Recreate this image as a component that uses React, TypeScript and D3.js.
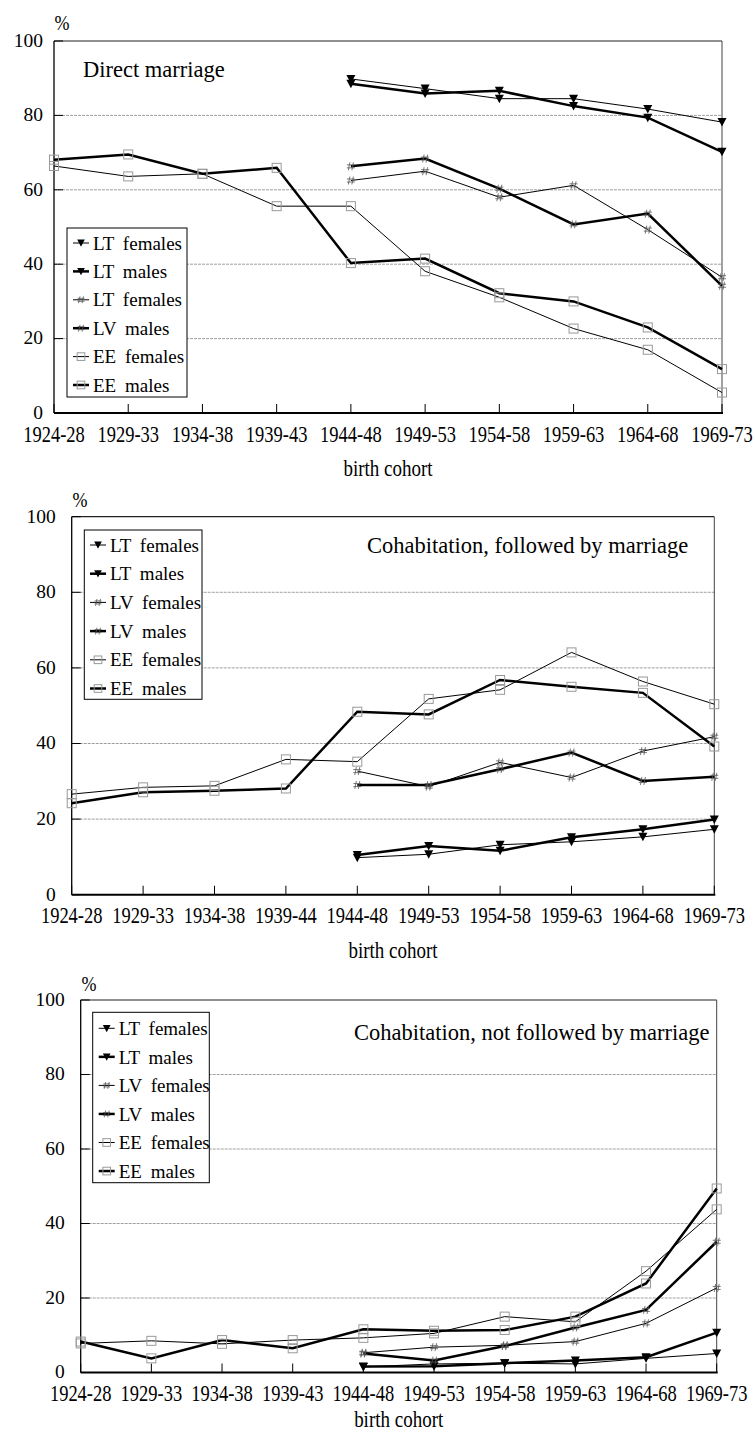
import React from "react";
import * as d3 from "d3";

// x categories (birth cohorts) and y ticks
const cohortsA = ["1924-28", "1929-33", "1934-38", "1939-43", "1944-48", "1949-53", "1954-58", "1959-63", "1964-68", "1969-73"];
const cohortsB = ["1924-28", "1929-33", "1934-38", "1939-44", "1944-48", "1949-53", "1954-58", "1959-63", "1964-68", "1969-73"];
const yTicks = [0, 20, 40, 60, 80, 100];

type V = number | null;
const _ = null;

// Direct marriage
const dmLtF: V[] = [_, _, _, _, 89.8, 87.2, 84.5, 84.5, 81.7, 78.2];
const dmLtM: V[] = [_, _, _, _, 88.5, 85.9, 86.6, 82.5, 79.4, 70.2];
const dmLvF: V[] = [_, _, _, _, 62.5, 65.0, 58.0, 61.2, 49.3, 36.5];
const dmLvM: V[] = [_, _, _, _, 66.3, 68.4, 60.3, 50.7, 53.6, 34.2];
const dmEeF: V[] = [66.4, 63.6, 64.3, 55.6, 55.6, 38.1, 31.1, 22.7, 17.0, 5.5];
const dmEeM: V[] = [68.1, 69.5, 64.3, 65.9, 40.3, 41.5, 32.2, 30.0, 23.0, 11.8];

// Cohabitation, followed by marriage
const cmLtF: V[] = [_, _, _, _, 9.8, 10.7, 13.2, 14.0, 15.3, 17.3];
const cmLtM: V[] = [_, _, _, _, 10.5, 12.9, 11.6, 15.2, 17.3, 19.9];
const cmLvF: V[] = [_, _, _, _, 32.7, 28.6, 35.0, 31.0, 38.0, 41.8];
const cmLvM: V[] = [_, _, _, _, 29.0, 29.0, 33.2, 37.6, 30.1, 31.2];
const cmEeF: V[] = [26.6, 28.4, 28.8, 35.8, 35.2, 51.8, 54.2, 64.1, 56.4, 50.4];
const cmEeM: V[] = [24.2, 27.1, 27.5, 28.1, 48.4, 47.7, 56.8, 55.0, 53.4, 39.2];

// Cohabitation, not followed by marriage
const cnLtF: V[] = [_, _, _, _, 1.5, 2.3, 2.5, 2.3, 3.8, 5.1];
const cnLtM: V[] = [_, _, _, _, 1.6, 1.7, 2.5, 3.2, 4.1, 10.7];
const cnLvF: V[] = [_, _, _, _, 5.3, 6.8, 7.3, 8.3, 13.2, 22.7];
const cnLvM: V[] = [_, _, _, _, 5.1, 3.2, 7.1, 12.1, 16.8, 35.1];
const cnEeF: V[] = [7.8, 8.5, 7.7, 8.7, 9.3, 10.5, 15.0, 13.6, 27.2, 43.8];
const cnEeM: V[] = [8.3, 3.8, 8.7, 6.5, 11.6, 11.2, 11.4, 15.0, 23.9, 49.4];

// legend labels (first chart repeats "LT females" as in the source)
const legendA = ["LT females", "LT males", "LT females", "LV males", "EE females", "EE males"];
const legendB = ["LT females", "LT males", "LV females", "LV males", "EE females", "EE males"];

const markers = ["tri", "tri", "hash", "hash", "square", "square"];
const thick = [false, true, false, true, false, true];

const FONT = "'Liberation Serif', 'Times New Roman', serif";

const panels = [
  {
    title: "Direct marriage", cats: cohortsA, legend: legendA,
    series: [dmLtF, dmLtM, dmLvF, dmLvM, dmEeF, dmEeM],
    x0: 54, x1: 722, yTop: 41, yBot: 413,
    titleX: 83, titleY: 77, pct: [62, 22], gap: 11, axTitle: 55,
    box: { x: 67, y: 228, w: 120, h: 169, row0: 243, step: 28.4, lx: 73 },
  },
  {
    title: "Cohabitation, followed by marriage", cats: cohortsB, legend: legendB,
    series: [cmLtF, cmLtM, cmLvF, cmLvM, cmEeF, cmEeM],
    x0: 71.7, x1: 714.3, yTop: 516.7, yBot: 894.7,
    titleX: 367, titleY: 553, pct: [80, 499], gap: 16, axTitle: 55,
    box: { x: 84.3, y: 530, w: 117.7, h: 169.3, row0: 545, step: 28.7, lx: 90 },
  },
  {
    title: "Cohabitation, not followed by marriage", cats: cohortsA, legend: legendB,
    series: [cnLtF, cnLtM, cnLvF, cnLvM, cnEeF, cnEeM],
    x0: 80.7, x1: 716.7, yTop: 1000, yBot: 1372.5,
    titleX: 354, titleY: 1040, pct: [89, 983], gap: 16, axTitle: 46.5,
    box: { x: 92.7, y: 1012.3, w: 116.6, h: 170.4, row0: 1028.3, step: 28.55, lx: 98.7 },
  },
];

// text stretched vertically, as the axis labels in the source are
function TallText({ x, y, size, sy, anchor, children }: { x: number; y: number; size: number; sy: number; anchor: string; children: React.ReactNode }) {
  return (
    <text transform={`translate(${x},${y}) scale(1,${sy})`} dy="0.35em" textAnchor={anchor} fontSize={size} fontFamily={FONT}>
      {children}
    </text>
  );
}

function Marker({ kind, x, y, s = 1 }: { kind: string; x: number; y: number; s?: number }) {
  if (kind === "tri") {
    return <path d={`M${x - 4.5 * s},${y - 4 * s}L${x + 4.5 * s},${y - 4 * s}L${x},${y + 4.5 * s}Z`} fill="#000" />;
  }
  if (kind === "hash") {
    const d = `M${x - 1},${y - 4 * s}L${x - 2.5},${y + 4 * s}M${x + 2.5},${y - 4 * s}L${x + 1},${y + 4 * s}` +
      `M${x - 4 * s},${y - 1.5}L${x + 4 * s},${y - 1.5}M${x - 4 * s},${y + 1.5}L${x + 4 * s},${y + 1.5}`;
    return <path d={d} stroke="#555" strokeWidth={0.8} fill="none" />;
  }
  return <rect x={x - 4.5 * s} y={y - 4.5 * s} width={9 * s} height={9 * s} fill="none" stroke="#999" strokeWidth={1} />;
}

function Panel({ p }: { p: (typeof panels)[number] }) {
  const x = d3.scalePoint<string>().domain(p.cats).range([p.x0, p.x1]);
  const y = d3.scaleLinear().domain([0, 100]).range([p.yBot, p.yTop]);
  const line = d3
    .line<[string, V]>()
    .defined((d) => d[1] != null)
    .x((d) => x(d[0]) as number)
    .y((d) => y(d[1] as number));

  return (
    <g>
      {/* grid */}
      {yTicks.filter((t) => t > 0 && t < 100).map((t) => (
        <line key={t} x1={p.x0} x2={p.x1} y1={y(t)} y2={y(t)} stroke="#a0a0a0" strokeWidth={1} strokeDasharray="3,1" />
      ))}
      {/* frame */}
      <line x1={p.x0} x2={p.x1} y1={p.yTop} y2={p.yTop} stroke="#222" strokeWidth={1.2} />
      <line x1={p.x1} x2={p.x1} y1={p.yTop} y2={p.yBot} stroke="#444" strokeWidth={1} />
      <line x1={p.x0} x2={p.x0} y1={p.yTop} y2={p.yBot} stroke="#000" strokeWidth={1.3} />
      <line x1={p.x0} x2={p.x1 + 1} y1={p.yBot} y2={p.yBot} stroke="#000" strokeWidth={2} />
      {/* y ticks */}
      {yTicks.map((t) => (
        <g key={t}>
          <line x1={p.x0} x2={p.x0 + 9} y1={y(t)} y2={y(t)} stroke="#000" strokeWidth={1} />
          <text x={p.x0 - p.gap} y={y(t) - 1} dy="0.35em" textAnchor="end" fontSize={19.5} fontFamily={FONT}>{t}</text>
        </g>
      ))}
      {/* x ticks */}
      {p.cats.map((c) => (
        <g key={c}>
          <line x1={x(c)} x2={x(c)} y1={p.yBot} y2={p.yBot - 9} stroke="#000" strokeWidth={1} />
          <TallText x={x(c) as number} y={p.yBot + 21} size={18.5} sy={1.2} anchor="middle">{c}</TallText>
        </g>
      ))}
      <TallText x={(p.x0 + p.x1) / 2} y={p.yBot + p.axTitle} size={19} sy={1.25} anchor="middle">birth cohort</TallText>
      <TallText x={p.pct[0]} y={p.pct[1]} size={18} sy={1.2} anchor="middle">%</TallText>
      <text x={p.titleX} y={p.titleY} fontSize={22.5} fontFamily={FONT}>{p.title}</text>
      {/* series */}
      {p.series.map((vals, i) => (
        <path key={"l" + i} d={line(p.cats.map((c, j) => [c, vals[j]] as [string, V])) || ""} fill="none" stroke="#000" strokeWidth={thick[i] ? 2.5 : 1} strokeLinejoin="miter" />
      ))}
      {p.series.map((vals, i) =>
        p.cats.map((c, j) => (vals[j] == null ? null : <Marker key={`m${i}-${j}`} kind={markers[i]} x={x(c) as number} y={y(vals[j] as number)} />))
      )}
      {/* legend */}
      <rect x={p.box.x} y={p.box.y} width={p.box.w} height={p.box.h} fill="#fff" stroke="#000" strokeWidth={1} />
      {p.legend.map((lab, i) => {
        const cy = p.box.row0 + i * p.box.step;
        return (
          <g key={"lg" + i}>
            <line x1={p.box.lx} x2={p.box.lx + 16} y1={cy} y2={cy} stroke="#000" strokeWidth={thick[i] ? 2.5 : 1} />
            <Marker kind={markers[i]} x={p.box.lx + 8} y={cy} s={0.85} />
            <text x={p.box.lx + 20} y={cy} dy="0.35em" fontSize={19} wordSpacing={4} fontFamily={FONT}>{lab}</text>
          </g>
        );
      })}
    </g>
  );
}

export default function App() {
  return (
    <svg width={755} height={1436} style={{ position: "absolute", left: 0, top: 0, background: "#fff" }}>
      <rect width={755} height={1436} fill="#fff" />
      {panels.map((p, i) => (
        <Panel key={i} p={p} />
      ))}
    </svg>
  );
}
